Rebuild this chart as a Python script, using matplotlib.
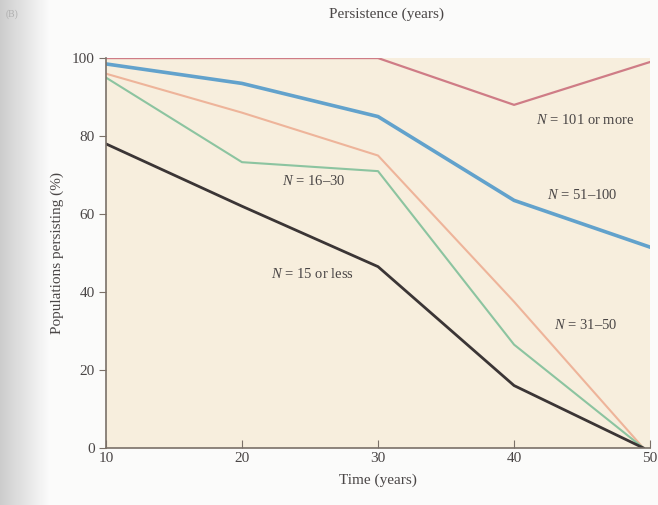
import numpy as np
import matplotlib.pyplot as plt

# Persistence of populations by initial size
years = [10, 20, 30, 40, 50]
years_declining = [10, 20, 30, 40, 49.5]

n_101_plus = [100, 100, 100, 88, 99]
n_51_100 = [98.5, 93.5, 85, 63.5, 51.5]
n_31_50 = [96, 86, 75, 37.5, 0]
n_16_30 = [95, 73.3, 71, 26.5, 0]
n_15_less = [78, 62, 46.5, 16, 0]

labels = ["$N$ = 101 or more", "$N$ = 51\u2013100", "$N$ = 31\u201350",
          "$N$ = 16\u201330", "$N$ = 15 or less"]

plt.rcParams['font.family'] = ['Liberation Serif', 'DejaVu Serif']
plt.rcParams['mathtext.fontset'] = 'custom'
plt.rcParams['mathtext.it'] = 'Liberation Serif:italic'
plt.rcParams['mathtext.rm'] = 'Liberation Serif'

text_col = '#4a4646'
fig = plt.figure(figsize=(6.58, 5.05), dpi=100)
fig.patch.set_facecolor('#fbfbfa')

# page shadow on the left edge
shade = fig.add_axes([0, 0, 0.075, 1])
grad = np.linspace(0.80, 0.985, 100)[None, :]
shade.imshow(grad, aspect='auto', cmap='gray', vmin=0, vmax=1, extent=[0, 1, 0, 1])
shade.axis('off')

ax = fig.add_axes([0.161, 0.113, 0.827, 0.772])
ax.set_facecolor('#f7eedd')

ax.plot(years, n_101_plus, color='#cf7c86', lw=1.6)
ax.plot(years, n_51_100, color='#62a2cc', lw=2.6)
ax.plot(years_declining, n_31_50, color='#eeb49a', lw=1.5)
ax.plot(years_declining, n_16_30, color='#8cc4a0', lw=1.5)
ax.plot(years_declining, n_15_less, color='#3b3535', lw=2.0)

fs = 10.5
ax.text(45.2, 84, labels[0], ha='center', va='center', fontsize=fs, color=text_col)
ax.text(45.0, 65, labels[1], ha='center', va='center', fontsize=fs, color=text_col)
ax.text(45.3, 31.5, labels[2], ha='center', va='center', fontsize=fs, color=text_col)
ax.text(25.3, 68.5, labels[3], ha='center', va='center', fontsize=fs, color=text_col)
ax.text(25.2, 44.5, labels[4], ha='center', va='center', fontsize=fs, color=text_col)

ax.set_xlim(10, 50)
ax.set_ylim(0, 100)
ax.set_xticks([10, 20, 30, 40, 50])
ax.set_yticks([0, 20, 40, 60, 80, 100])
for s in ['top', 'right']:
    ax.spines[s].set_visible(False)
for s in ['left', 'bottom']:
    ax.spines[s].set_color('#7a7068')
    ax.spines[s].set_linewidth(1.2)
ax.tick_params(axis='x', direction='in', length=6, color='#7a7068',
               labelsize=11, labelcolor=text_col, pad=3)
ax.tick_params(axis='y', direction='out', length=5, color='#7a7068',
               labelsize=11, labelcolor=text_col, pad=3)

ax.set_xlabel('Time (years)', fontsize=11, color=text_col, labelpad=6)
ax.set_ylabel('Populations persisting (%)', fontsize=11, color=text_col, labelpad=6)

fig.text(0.588, 0.972, 'Persistence (years)', ha='center', va='center',
         fontsize=11, color=text_col)
fig.text(0.018, 0.972, '(B)', ha='center', va='center', fontsize=7, color='#b0b0b0')

fig.savefig('out.png', dpi=100, facecolor=fig.get_facecolor())
